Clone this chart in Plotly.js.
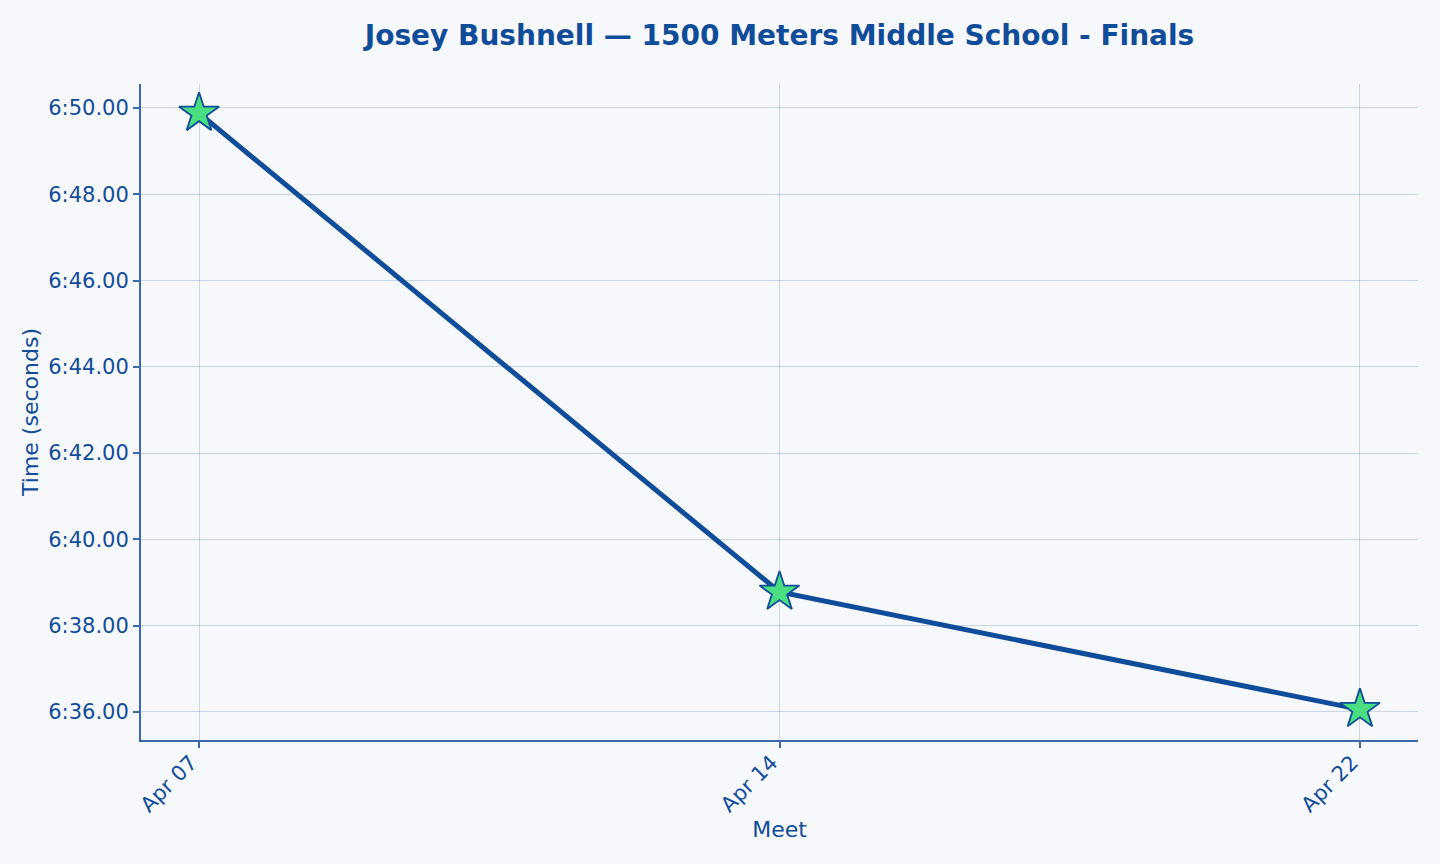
<!DOCTYPE html>
<html>
<head>
<meta charset="utf-8">
<script src="https://cdn.plot.ly/plotly-3.0.1.min.js"></script>
<style>html,body{margin:0;padding:0;background:#f7f8fb;}#chart{width:1440px;height:864px;}</style>
</head>
<body>
<div id="chart"></div>
<script>
const meets = ["Apr 07", "Apr 14", "Apr 22"];
const timesSec = [409.88, 398.78, 396.06];
const tickSeconds = [396, 398, 400, 402, 404, 406, 408, 410];
const tickLabels = ["6:36.00", "6:38.00", "6:40.00", "6:42.00", "6:44.00", "6:46.00", "6:48.00", "6:50.00"];

const textColor = "#0f4c9a";
const axisColor = "#3a6aaa";

Plotly.newPlot("chart", [{
  x: meets,
  y: timesSec,
  type: "scatter",
  mode: "lines+markers",
  line: {color: "#0f4c9a", width: 5},
  marker: {symbol: "star", size: 30, color: "#4ade80", line: {color: "#0f4c9a", width: 1.8}},
  hoverinfo: "x+y"
}], {
  width: 1440, height: 864,
  paper_bgcolor: "#f7f8fb",
  plot_bgcolor: "#f7f8fb",
  font: {family: "DejaVu Sans", color: textColor, size: 20},
  title: {text: "<b>Josey Bushnell — 1500 Meters Middle School - Finals</b>", xref: "paper", x: 0.5, xanchor: "center", yref: "container", y: 0.959, yanchor: "middle", font: {size: 28, color: textColor}},
  margin: {l: 141, r: 22, t: 84, b: 124},
  showlegend: false,
  xaxis: {
    type: "category",
    range: [-0.1, 2.1],
    title: {text: "Meet", font: {size: 22, color: textColor}, standoff: 6},
    tickangle: -45,
    ticklabelshift: -8,
    ticklabelstandoff: -6,
    ticks: "outside", ticklen: 6, tickwidth: 2, tickcolor: axisColor,
    showline: true, linecolor: axisColor, linewidth: 2,
    showgrid: true, gridcolor: "rgba(15,76,154,0.2)", gridwidth: 1,
    tickfont: {size: 21, color: textColor},
    zeroline: false
  },
  yaxis: {
    range: [395.35, 410.556],
    tickvals: tickSeconds,
    ticktext: tickLabels,
    title: {text: "Time (seconds)", font: {size: 22, color: textColor}, standoff: 4},
    ticks: "outside", ticklen: 6, tickwidth: 2, tickcolor: axisColor,
    showline: true, linecolor: axisColor, linewidth: 2,
    showgrid: true, gridcolor: "rgba(15,76,154,0.2)", gridwidth: 1,
    tickfont: {size: 21, color: textColor},
    zeroline: false
  }
}, {displayModeBar: false});
</script>
</body>
</html>
